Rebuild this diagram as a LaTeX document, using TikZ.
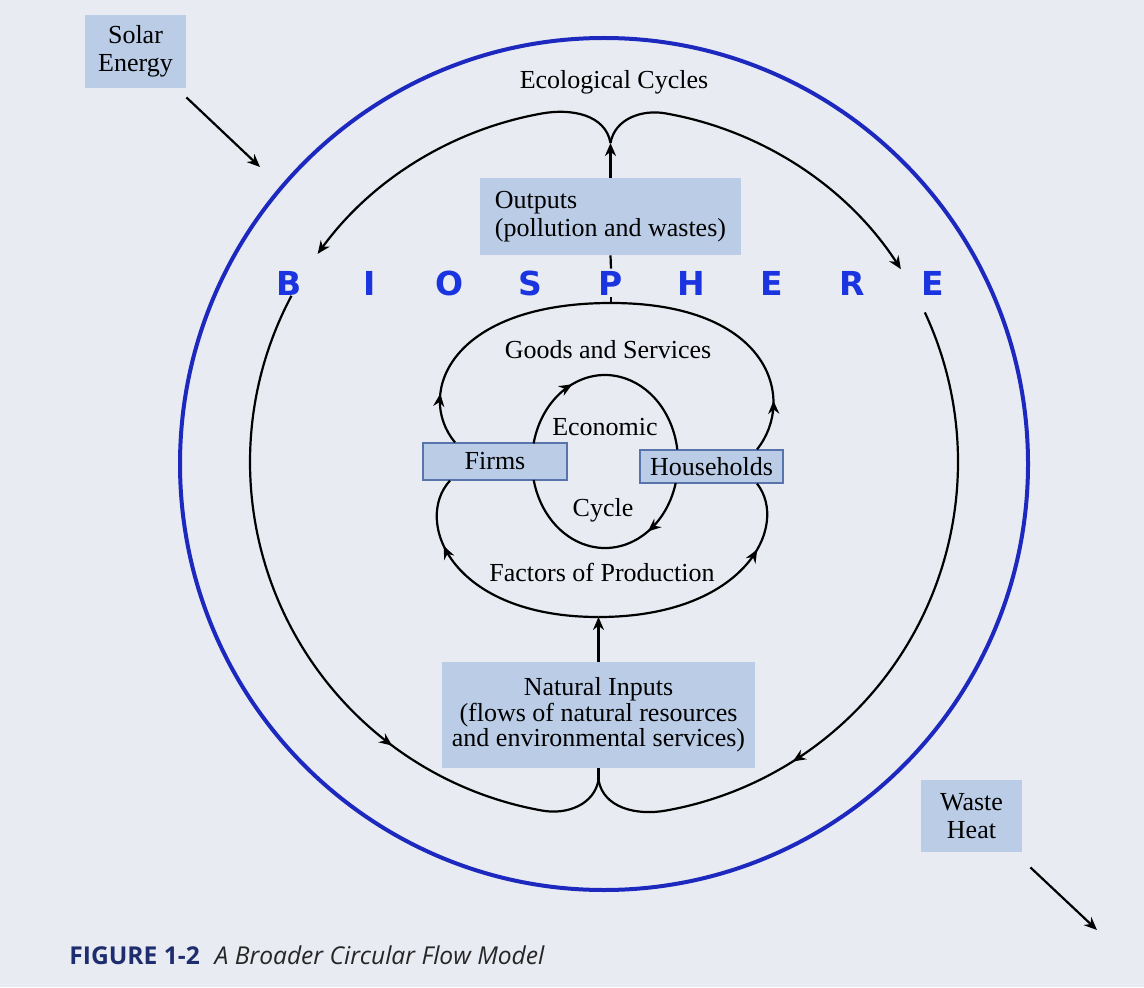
\documentclass[tikz,border=0pt]{standalone}
\usepackage{fontspec}
\setmainfont{Liberation Serif}
\newfontfamily\biofont{DejaVu Sans}
\newfontfamily\capfont{Open Sans}
\usetikzlibrary{arrows.meta,calc,decorations.markings}
\definecolor{paper}{RGB}{233,235,242}
\definecolor{boxblue}{RGB}{186,204,230}
\definecolor{boxedge}{RGB}{88,116,172}
\definecolor{ringblue}{RGB}{28,40,190}
\definecolor{letterblue}{RGB}{26,52,224}
\definecolor{capblue}{RGB}{30,45,110}

\begin{document}
\begin{tikzpicture}[x=0.5pt, y=0.5pt,
  flow/.style={line width=1.1pt, black},
  arrowend/.style={-{Stealth[length=6.5pt,width=5.5pt]}},
  flowtip/.style={postaction={decorate}, decoration={markings,
    mark=at position #1 with {\arrow{Stealth[length=6.5pt,width=5.5pt]}}}},
  infobox/.style={fill=boxblue, inner sep=0pt, align=center, font=\fontsize{13}{14}\selectfont},
  agent/.style={infobox, draw=boxedge, line width=0.6pt},
  flowtext/.style={inner sep=0pt, font=\fontsize{13}{14}\selectfont},
  bioletter/.style={text=letterblue, inner sep=1pt, font=\biofont\bfseries\fontsize{16.5}{16.5}\selectfont}]
\fill[paper] (0,0) rectangle (1144,987);

% biosphere boundary
\draw[ringblue, line width=2pt] (604,523) ellipse [x radius=424, y radius=426];
\foreach \ch [count=\i] in {B,I,O,S,P,H,E,R,E}
  \node[bioletter] (bio\i) at ({289+80.5*(\i-1)},704) {\ch};

% boxes
\node[infobox, minimum width=50.5pt, minimum height=36.5pt] (solar) at (135.5,935.5) {Solar\\Energy};
\node[infobox, minimum width=50.5pt, minimum height=36pt] (heat) at (971.5,171) {Waste\\Heat};
\node[infobox, align=left, minimum width=130.5pt, minimum height=38.5pt] (outputs) at (610.5,770.5) {Outputs\\(pollution and wastes)};
\node[infobox, minimum width=156.5pt, minimum height=53pt, font=\fontsize{13}{12.8}\selectfont] (natural) at (598.5,272)
  {Natural Inputs\\(flows of natural resources\\and environmental services)};
\node[agent, minimum width=72pt, minimum height=18.5pt] (firms) at (495,525.5) {Firms};
\node[agent, minimum width=71.5pt, minimum height=16.5pt] (households) at (711.5,520.5) {Households};

% texts
\node[flowtext] (ecolabel) at (614,905) {Ecological Cycles};
\node[flowtext] (goodslabel) at (608,637) {Goods and Services};
\node[flowtext] (econlabel) at (605,560) {Economic};
\node[flowtext] (cyclelabel) at (603,477) {Cycle};
\node[flowtext] (factlabel) at (602,415) {Factors of Production};

\coordinate (ecoc) at (604,525);
\coordinate (ecotop) at (610.5,844);
\coordinate (ecobot) at (598.5,207);
\coordinate (econ) at (605,525.5);
\coordinate (goodstop) at (611,684);
\coordinate (factbot) at (598.5,370);
\coordinate (solarend) at (260,820);
\coordinate (heatend) at (1097,57);

% energy in and out
\draw[flow, arrowend] ([yshift=-4.5pt]solar.south east) -- (solarend);
\draw[flow, arrowend] ([shift={(4pt,-7.5pt)}]heat.south east) -- (heatend);

% ecological cycles
\draw[flow, arrowend] (ecotop) to[out=100,in=10] ($(ecoc)+(100:354)$) arc[start angle=100, end angle=144, radius=354];
\draw[flow, flowtip=0.68] ($(ecoc)+(152:354)$) arc[start angle=152, end angle=260, radius=354] to[out=-10,in=260] (ecobot);
\draw[flow, arrowend] (ecotop) to[out=80,in=170] ($(ecoc)+(80:354)$) arc[start angle=80, end angle=33, radius=354];
\draw[flow, flowtip=0.7] ($(ecoc)+(25:354)$) arc[start angle=25, end angle=-80, radius=354] to[out=190,in=280] (ecobot);

% links to the economy
\draw[flow, arrowend] (outputs.north) -- (ecotop);
\draw[flow] (goodstop) -- (bio5.south);
\draw[flow] (bio5.north) -- (outputs.south);
\draw[flow, arrowend] (natural.north) -- (factbot);
\draw[flow] (natural.south) -- (ecobot);

% goods and factors
\draw[flow, flowtip=0.2] ($(firms.north)+(-40,0)$) .. controls +(-40,48) and +(-161,0) .. (goodstop);
\draw[flow, flowtip=0.2] ($(households.north)+(45.5,0)$) .. controls +(40,50) and +(159,0) .. (goodstop);
\draw[flow, flowtip=0.72] (factbot) .. controls +(-148,0) and +(-37,-40) .. ($(firms.south)+(-45,0)$);
\draw[flow, flowtip=0.72] (factbot) .. controls +(146.5,0) and +(33,-42) .. ($(households.south)+(45.5,0)$);

% economic cycle
\draw[flow, flowtip=0.33] ($(econ)+(168:73 and 86.5)$) arc[start angle=168, end angle=8, x radius=73, y radius=86.5];
\draw[flow, flowtip=0.27] ($(econ)+(-14.4:73 and 86.5)$) arc[start angle=-14.4, end angle=-167.6, x radius=73, y radius=86.5];

\node[anchor=west, inner sep=0pt, font=\capfont\fontsize{12.3}{13}\selectfont] (caption) at (69,32)
  {\textcolor{capblue}{\bfseries FIGURE 1-2}\hspace{0.6em}{\color{black!85}\itshape A Broader Circular Flow Model}};
\end{tikzpicture}
\end{document}
